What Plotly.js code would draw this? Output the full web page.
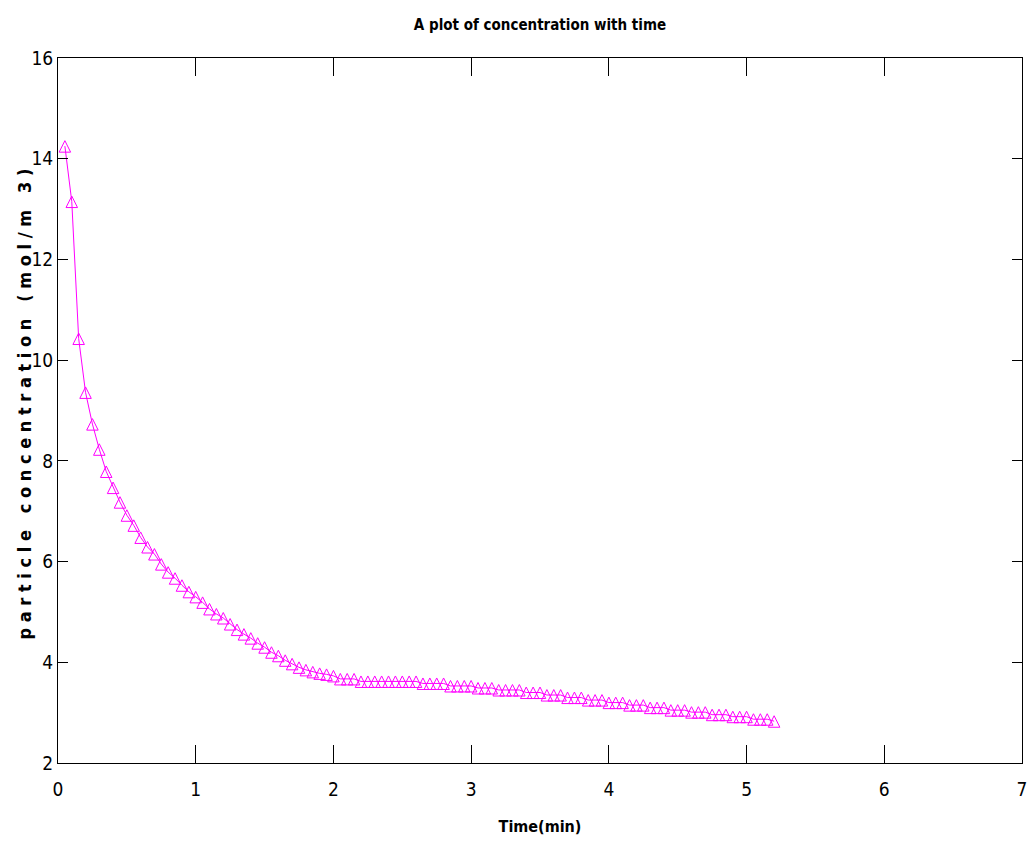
<!DOCTYPE html>
<html>
<head>
<meta charset="utf-8">
<script src="https://cdn.plot.ly/plotly-3.0.1.min.js"></script>
<style>
  html, body { margin: 0; padding: 0; background: #ffffff; }
  #chart { width: 1029px; height: 846px; }
</style>
</head>
<body>
<div id="chart"></div>
<script>
// Sampling times (min)
const timeMin = [
  0.05, 0.10, 0.15, 0.20, 0.25, 0.30, 0.35, 0.40, 0.45, 0.50,
  0.55, 0.60, 0.65, 0.70, 0.75, 0.80, 0.85, 0.90, 0.95, 1.00,
  1.05, 1.10, 1.15, 1.20, 1.25, 1.30, 1.35, 1.40, 1.45, 1.50,
  1.55, 1.60, 1.65, 1.70, 1.75, 1.80, 1.85, 1.90, 1.95, 2.00,
  2.05, 2.10, 2.15, 2.20, 2.25, 2.30, 2.35, 2.40, 2.45, 2.50,
  2.55, 2.60, 2.65, 2.70, 2.75, 2.80, 2.85, 2.90, 2.95, 3.00,
  3.05, 3.10, 3.15, 3.20, 3.25, 3.30, 3.35, 3.40, 3.45, 3.50,
  3.55, 3.60, 3.65, 3.70, 3.75, 3.80, 3.85, 3.90, 3.95, 4.00,
  4.05, 4.10, 4.15, 4.20, 4.25, 4.30, 4.35, 4.40, 4.45, 4.50,
  4.55, 4.60, 4.65, 4.70, 4.75, 4.80, 4.85, 4.90, 4.95, 5.00,
  5.05, 5.10, 5.15, 5.20
];

// Particle concentration (mol/m^3)
const concentration = [
  14.25, 13.15, 10.43, 9.36, 8.73, 8.23, 7.79, 7.47, 7.18, 6.92,
  6.72, 6.48, 6.29, 6.15, 5.95, 5.79, 5.67, 5.53, 5.40, 5.30,
  5.19, 5.06, 4.96, 4.88, 4.76, 4.65, 4.56, 4.48, 4.38, 4.30,
  4.20, 4.13, 4.04, 3.97, 3.90, 3.85, 3.81, 3.78, 3.76, 3.73,
  3.67, 3.67, 3.67, 3.62, 3.62, 3.62, 3.62, 3.62, 3.62, 3.62,
  3.62, 3.62, 3.58, 3.58, 3.58, 3.58, 3.53, 3.53, 3.53, 3.53,
  3.49, 3.49, 3.49, 3.45, 3.45, 3.45, 3.45, 3.40, 3.40, 3.40,
  3.35, 3.35, 3.35, 3.30, 3.30, 3.30, 3.25, 3.25, 3.25, 3.20,
  3.20, 3.20, 3.15, 3.15, 3.15, 3.10, 3.10, 3.10, 3.05, 3.05,
  3.05, 3.01, 3.01, 3.01, 2.96, 2.96, 2.96, 2.92, 2.92, 2.92,
  2.87, 2.87, 2.87, 2.83
];

const xTickVals = [0, 1, 2, 3, 4, 5, 6, 7];
const yTickVals = [2, 4, 6, 8, 10, 12, 14, 16];

const chartTitle = 'A plot of concentration with time';
const xTitle = 'Time(min)';
const yTitle = 'p a r t i c l e\u00a0\u00a0 c o n c e n t r a t i o n\u00a0\u00a0 ( m o l / m\u00a0\u00a0 3 )';

const W = 1029, H = 846;
const margin = {l: 58, r: 7, t: 58, b: 83, pad: 0};
const yRange = [2, 16];

// The arrow-up symbol hangs below its anchor point; a hidden overlay axis
// lifts the triangles so they sit centred on the curve.
const markerSize = 11.5;
const liftPx = 0.95 * markerSize / 2;
const plotH = H - margin.t - margin.b;
const liftUnits = liftPx * (yRange[1] - yRange[0]) / plotH;

const magenta = '#ff00ff';
const narrow = '"Liberation Sans Narrow", "Arial Narrow", "DejaVu Sans Condensed", "Liberation Sans", Arial, sans-serif';

const traces = [
  {
    x: timeMin, y: concentration,
    type: 'scatter', mode: 'lines',
    line: {color: magenta, width: 1},
    hoverinfo: 'skip', showlegend: false
  },
  {
    x: timeMin, y: concentration,
    yaxis: 'y2',
    type: 'scatter', mode: 'markers',
    marker: {symbol: 'arrow-up-open', size: markerSize, color: magenta,
             line: {color: magenta, width: 1}},
    showlegend: false
  }
];

const axisCommon = {
  showline: true, linecolor: '#000000', linewidth: 1,
  mirror: 'ticks', ticks: 'inside', tickcolor: '#000000', tickwidth: 1,
  showgrid: false, zeroline: false, fixedrange: true,
  tickfont: {family: narrow, size: 19, color: '#000000'}
};

const layout = {
  width: W, height: H,
  margin: margin,
  paper_bgcolor: '#ffffff', plot_bgcolor: '#ffffff',
  showlegend: false,
  title: {
    text: '<b>' + chartTitle + '</b>',
    font: {family: narrow, size: 15, color: '#000000'},
    x: 0.5, xref: 'paper', xanchor: 'center',
    y: 1 - 25 / H, yref: 'container', yanchor: 'middle'
  },
  xaxis: Object.assign({}, axisCommon, {
    range: [0, 7], tickmode: 'array', tickvals: xTickVals,
    ticklen: 18, ticklabelstandoff: 9,
    title: {text: '<b>' + xTitle + '</b>', font: {family: narrow, size: 16, color: '#000000'}, standoff: 22}
  }),
  yaxis: Object.assign({}, axisCommon, {
    range: yRange, tickmode: 'array', tickvals: yTickVals,
    ticklen: 10
  }),
  yaxis2: {
    overlaying: 'y', side: 'left', visible: false, fixedrange: true,
    range: [yRange[0] - liftUnits, yRange[1] - liftUnits]
  },
  annotations: [{
    text: '<b>' + yTitle + '</b>',
    textangle: -90,
    xref: 'paper', x: 0, xanchor: 'center', xshift: -34,
    yref: 'paper', y: 0.5, yanchor: 'middle', yshift: 6,
    showarrow: false,
    font: {family: narrow, size: 18, color: '#000000'}
  }]
};

Plotly.newPlot('chart', traces, layout, {staticPlot: true, displayModeBar: false});
</script>
</body>
</html>
